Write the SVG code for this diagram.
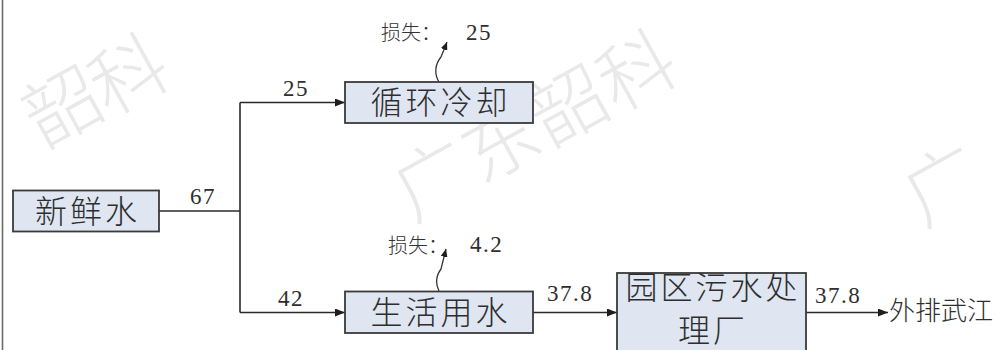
<svg xmlns="http://www.w3.org/2000/svg" width="1003" height="350" viewBox="0 0 1003 350">
  <style>
    .box { fill: #dfe6f1; stroke: #3a3a3a; stroke-width: 1.8; }
    .bt { font-family: "Noto Sans CJK SC", "Noto Sans CJK JP", sans-serif; font-size: 32px; fill: #2e2e2e; letter-spacing: 3px; text-anchor: middle; font-weight: 300; }
    .lbl { font-family: "Noto Sans CJK SC", "Noto Sans CJK JP", sans-serif; font-size: 20px; fill: #333; font-weight: 300; }
    .num { font-family: "Liberation Serif", "Times New Roman", serif; font-size: 23px; fill: #2e2e2e; letter-spacing: 1.5px; }
    .out { font-family: "Noto Sans CJK SC", "Noto Sans CJK JP", sans-serif; font-size: 26px; fill: #2e2e2e; font-weight: 300; }
    .ln { fill: none; stroke: #2a2a2a; stroke-width: 1.6; }
    .wv { fill: none; stroke: #333; stroke-width: 1.3; }
    .wm { font-family: "Noto Sans CJK SC", sans-serif; font-size: 76px; fill: #e9e9e9; font-weight: 300; text-anchor: middle; dominant-baseline: central; }
  </style>
  <defs>
    <marker id="ah" viewBox="0 0 10 8" refX="10" refY="4" markerWidth="10" markerHeight="8" markerUnits="userSpaceOnUse" orient="auto">
      <path d="M0,0 L10,4 L0,8 z" fill="#1e1e1e"/>
    </marker>
    <marker id="ahs" viewBox="0 0 8 7" refX="8" refY="3.5" markerWidth="8" markerHeight="7" markerUnits="userSpaceOnUse" orient="auto">
      <path d="M0,0 L8,3.5 L0,7 z" fill="#1e1e1e"/>
    </marker>
  </defs>
  <rect x="0" y="0" width="1003" height="350" fill="#ffffff"/>
  <g id="watermark">
    <text class="wm" transform="translate(60,102) rotate(-29)">韶</text>
    <text class="wm" transform="translate(126,70) rotate(-29)">科</text>
    <text class="wm" transform="translate(430,175) rotate(-29)">广</text>
    <text class="wm" transform="translate(498,138) rotate(-29)">东</text>
    <text class="wm" transform="translate(566,101) rotate(-29)">韶</text>
    <text class="wm" transform="translate(634,66) rotate(-29)">科</text>
    <text class="wm" transform="translate(940,180) rotate(-29)">广</text>
  </g>
  <line x1="2.5" y1="0" x2="2.5" y2="350" stroke="#6a6a6a" stroke-width="1.6"/>
  <g id="connectors">
    <path class="ln" d="M159,211 H240"/>
    <path class="ln" d="M240,102.5 V312.5"/>
    <path class="ln" d="M240,102.5 H345" marker-end="url(#ah)"/>
    <path class="ln" d="M240,312.5 H345" marker-end="url(#ah)"/>
    <path class="ln" d="M532,312.5 H617" marker-end="url(#ah)"/>
    <path class="ln" d="M806,312.5 H888" marker-end="url(#ah)"/>
    <path class="wv" d="M439,82 C434,74 435,64 441,57 L447,42" marker-end="url(#ahs)"/>
    <path class="wv" d="M439,291 C435,283 436,276 441,269 L446,249" marker-end="url(#ahs)"/>
    <text class="num" x="190" y="204">67</text>
    <text class="num" x="283" y="96">25</text>
    <text class="num" x="278" y="306">42</text>
    <text class="num" x="547" y="301">37.8</text>
    <text class="num" x="815" y="303">37.8</text>
    <text class="lbl" x="381" y="40">损失：<tspan class="num" x="466" y="40">25</tspan></text>
    <text class="lbl" x="388" y="253">损失：<tspan class="num" x="470" y="252">4.2</tspan></text>
  </g>
  <g id="n-fresh">
    <rect class="box" x="13" y="190.5" width="146" height="41"/>
    <text class="bt" x="87.5" y="223">新鲜水</text>
  </g>
  <g id="n-cool">
    <rect class="box" x="345" y="82" width="188" height="41"/>
    <text class="bt" x="440.5" y="114">循环冷却</text>
  </g>
  <g id="n-domestic">
    <rect class="box" x="345" y="291.5" width="188" height="41.5"/>
    <text class="bt" x="440.5" y="324">生活用水</text>
  </g>
  <g id="n-wwtp">
    <rect class="box" x="617" y="273" width="189" height="82"/>
    <text class="bt" x="713" y="299">园区污水处</text>
    <text class="bt" x="713" y="342">理厂</text>
  </g>
  <g id="n-out">
    <text class="out" x="889" y="320">外排武江</text>
  </g>
</svg>
